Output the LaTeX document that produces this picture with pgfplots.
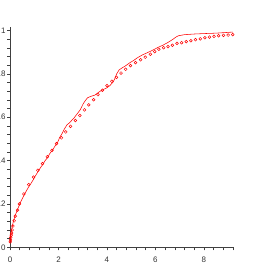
\documentclass[border=0pt]{standalone}
\usepackage{pgfplots}
\pgfplotsset{compat=1.18}
\usepackage{fontspec}
\setmainfont{Liberation Sans}
\pgfplotstableread{
x y
0.01 0.025
0.02 0.034
0.03 0.046
0.05 0.056
0.07 0.066
0.09 0.080
0.12 0.098
0.17 0.122
0.22 0.144
0.31 0.172
0.39 0.200
0.57 0.246
0.77 0.289
0.97 0.324
1.15 0.355
1.34 0.386
1.54 0.418
1.73 0.447
1.92 0.478
2.12 0.505
2.30 0.532
2.50 0.558
2.70 0.585
2.88 0.608
3.07 0.634
3.25 0.657
3.45 0.681
3.63 0.704
3.81 0.725
4.00 0.746
4.20 0.766
4.39 0.784
4.58 0.804
4.77 0.821
4.97 0.838
5.18 0.852
5.39 0.865
5.58 0.877
5.79 0.891
5.97 0.903
6.14 0.914
6.34 0.921
6.52 0.926
6.70 0.932
6.89 0.941
7.08 0.944
7.27 0.949
7.46 0.953
7.65 0.958
7.85 0.962
8.04 0.967
8.23 0.970
8.42 0.973
8.61 0.976
8.81 0.978
9.00 0.979
9.19 0.981
}\markdata
\pgfplotstableread{
x y
0.00 0.020
0.02 0.045
0.05 0.070
0.08 0.090
0.12 0.110
0.16 0.128
0.22 0.148
0.28 0.166
0.36 0.188
0.45 0.212
0.55 0.234
0.65 0.255
0.75 0.275
0.85 0.292
0.95 0.310
1.05 0.330
1.15 0.348
1.25 0.366
1.35 0.382
1.45 0.400
1.55 0.414
1.65 0.434
1.75 0.447
1.85 0.466
1.95 0.480
2.05 0.507
2.15 0.525
2.25 0.547
2.35 0.565
2.45 0.574
2.55 0.586
2.65 0.598
2.78 0.617
2.90 0.635
3.00 0.658
3.10 0.676
3.20 0.690
3.35 0.697
3.50 0.702
3.62 0.712
3.72 0.720
3.85 0.728
4.00 0.736
4.12 0.746
4.25 0.762
4.33 0.780
4.40 0.800
4.50 0.818
4.60 0.826
4.75 0.836
4.95 0.852
5.10 0.862
5.25 0.874
5.45 0.887
5.65 0.897
5.90 0.910
6.10 0.922
6.30 0.932
6.50 0.944
6.70 0.958
6.85 0.970
6.95 0.976
7.20 0.981
7.60 0.984
8.00 0.986
8.50 0.988
9.20 0.993
}\linedata
\begin{document}
\begin{tikzpicture}[x=1bp,y=1bp]
\begin{axis}[
  at={(0,0)}, anchor=south west,
  scale only axis,
  width=223bp, height=220bp,
  xmin=0, xmax=9.2, ymin=0, ymax=1.015,
  axis lines*=left,
  axis line style={draw=black!75, line width=0.5pt},
  tick style={draw=black!75, line width=0.5pt},
  tick align=outside,
  major tick length=3bp, minor tick length=3bp,
  xtick={0,2,4,6,8},
  minor xtick={0.4,0.8,...,9.2},
  ytick={0,0.2,0.4,0.6,0.8,1},
  yticklabels={0,.2,.4,.6,.8,1},
  minor ytick={0.04,0.08,...,1.0},
  ticklabel style={font=\fontsize{8}{9}\selectfont, text=black!80},
  /pgf/number format/assume math mode=true,
  xticklabel style={yshift=-3bp},
  yticklabel style={xshift=2bp},
  clip=false,
]
\addplot[red, line width=0.55pt, no marks] table {\linedata};
\addplot[only marks, mark=o, red, mark size=1.4bp, mark options={line width=0.5pt}] table {\markdata};
\end{axis}
\pgfresetboundingbox
\useasboundingbox (-10,-30.7) rectangle (251,247.3);
\end{tikzpicture}
\end{document}
